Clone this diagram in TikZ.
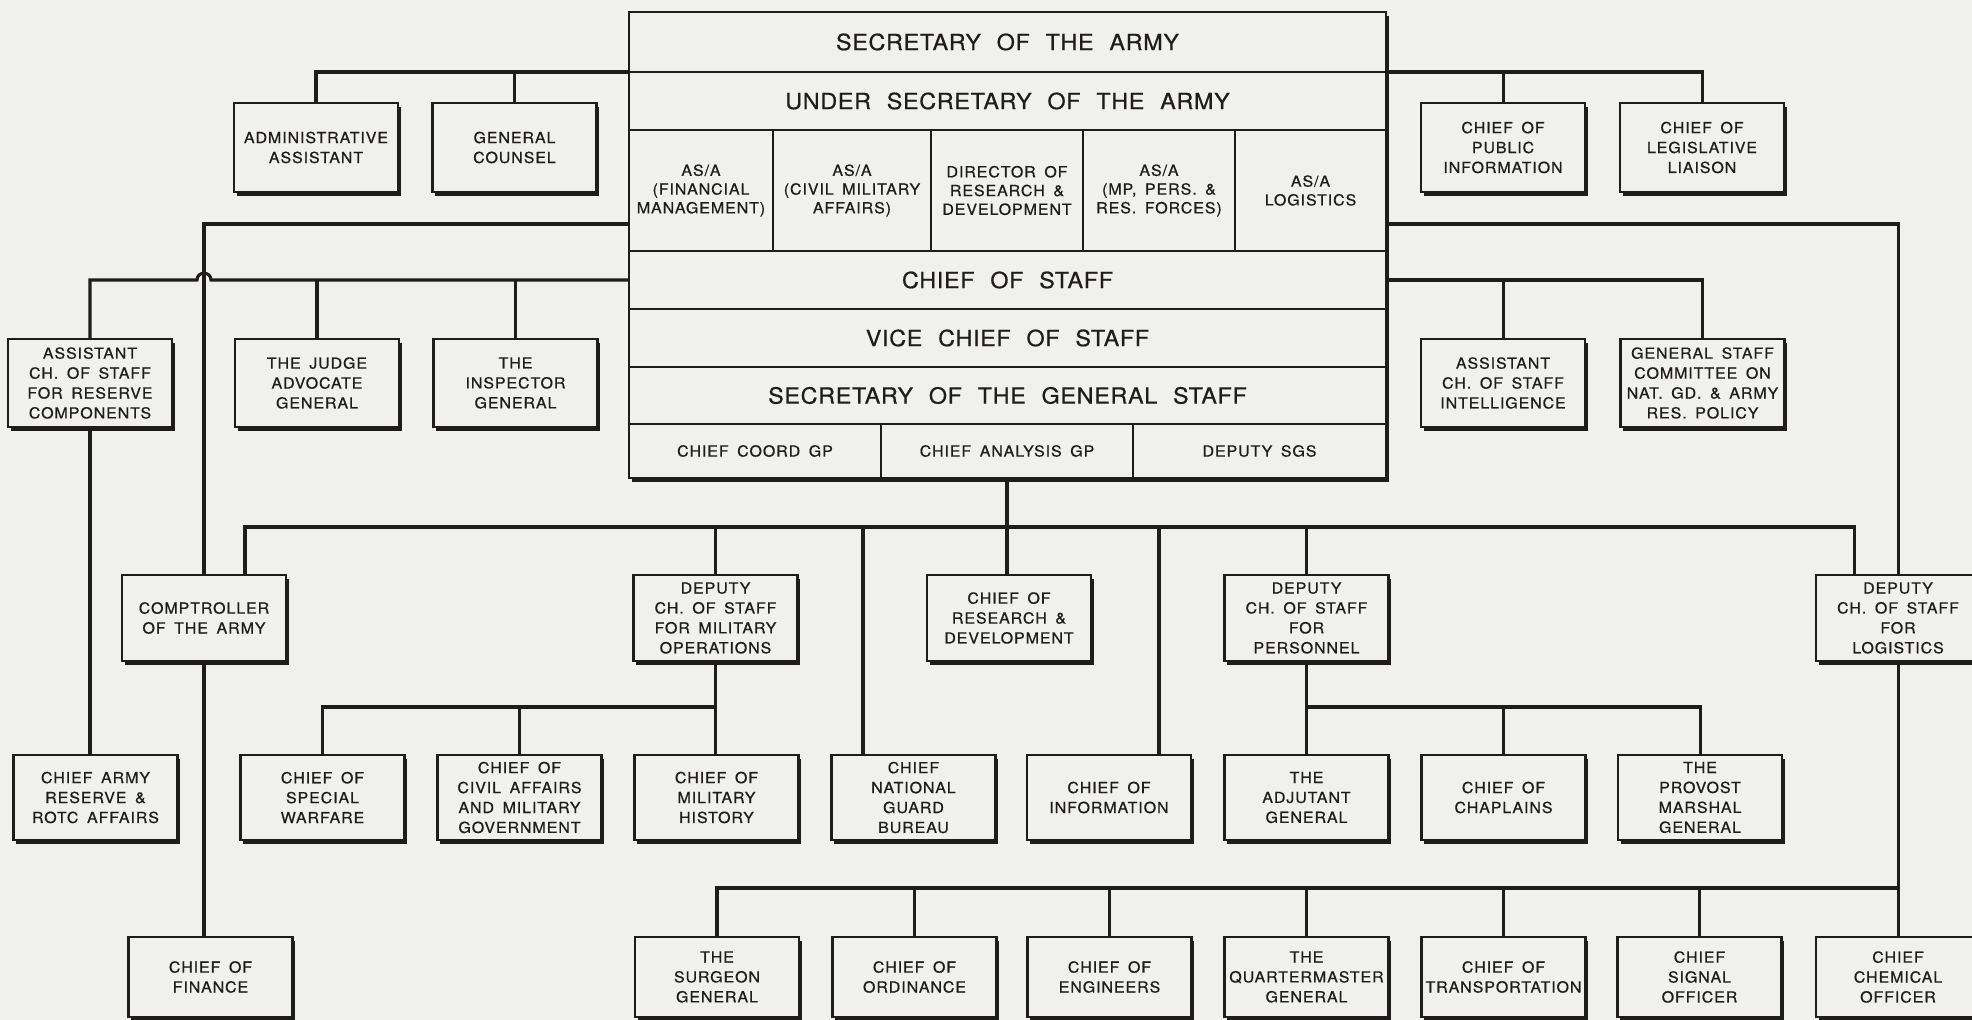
\documentclass[tikz,border=0pt]{standalone}
\usepackage{fontspec}
\usetikzlibrary{shadows}
\newfontfamily\lettering[FakeStretch=1.05,LetterSpace=6,WordSpace=1.6,FakeBold=0.6]{TeX Gyre Heros}
\newfontfamily\banner[FakeStretch=1.05,LetterSpace=3,WordSpace=2.2,FakeBold=0.6]{TeX Gyre Heros}
\definecolor{paper}{RGB}{240,240,238}
\definecolor{ink}{RGB}{30,28,28}
\begin{document}
\begin{tikzpicture}[x=0.03cm,y=-0.03cm,
  wire/.style={draw=ink,line width=2.6pt},
  unit/.style={draw=ink,line width=2.3pt,fill=paper,align=center,inner sep=0pt,outer sep=0pt,
    minimum width=4.92cm,minimum height=2.58cm,text=ink,font=\lettering\fontsize{13}{17}\selectfont,
    general shadow={fill=ink,shadow xshift=2.4pt,shadow yshift=-3.4pt}},
  cell/.style={draw=ink,line width=2.1pt,fill=paper,align=center,inner sep=0pt,outer sep=0pt,
    text=ink,font=\lettering\fontsize{13}{16}\selectfont},
  bigcell/.style={cell,minimum width=22.71cm,font=\banner\fontsize{19}{22}\selectfont}]
  \fill[paper] (0,0) rectangle (1972,1020);
  \useasboundingbox (0,0) rectangle (1972,1020);
  \clip (0,0) rectangle (1972,1020);

  \fill[ink] (631.8,15.8) rectangle (1388.8,481.8);
  \node[bigcell,minimum height=1.8cm] (secy) at (1007.5,42) {SECRETARY OF THE ARMY};
  \node[bigcell,minimum height=1.74cm] (usecy) at (1007.5,101) {UNDER SECRETARY OF THE ARMY};
  \node[cell,minimum width=4.32cm,minimum height=3.63cm] (asafm) at (701,190.5) {AS/A\\(FINANCIAL\\MANAGEMENT)};
  \node[cell,minimum width=4.74cm,minimum height=3.63cm] (asacma) at (852,190.5) {AS/A\\(CIVIL MILITARY\\AFFAIRS)};
  \node[cell,minimum width=4.56cm,minimum height=3.63cm] (drd) at (1007,190.5) {DIRECTOR OF\\RESEARCH \&\\DEVELOPMENT};
  \node[cell,minimum width=4.56cm,minimum height=3.63cm] (asamp) at (1159,190.5) {AS/A\\(MP, PERS. \&\\RES. FORCES)};
  \node[cell,minimum width=4.53cm,minimum height=3.63cm] (asalog) at (1310.5,190.5) {AS/A\\LOGISTICS};
  \node[bigcell,minimum height=1.74cm] (cos) at (1007.5,280) {CHIEF OF STAFF};
  \node[bigcell,minimum height=1.74cm] (vcos) at (1007.5,338) {VICE CHIEF OF STAFF};
  \node[bigcell,minimum height=1.71cm] (sgs) at (1007.5,395.5) {SECRETARY OF THE GENERAL STAFF};
  \node[cell,minimum width=7.56cm,minimum height=1.62cm] (ccg) at (755,451) {CHIEF\ COORD\ GP};
  \node[cell,minimum width=7.56cm,minimum height=1.62cm] (cag) at (1007,451) {CHIEF\ ANALYSIS\ GP};
  \node[cell,minimum width=7.59cm,minimum height=1.62cm] (dsgs) at (1259.5,451) {DEPUTY\ SGS};

  \node[unit,minimum height=2.67cm] (adm) at (316,147.5) {ADMINISTRATIVE\\ASSISTANT};
  \node[unit,minimum height=2.67cm] (gc) at (514.5,147.5) {GENERAL\\COUNSEL};
  \node[unit,minimum height=2.67cm] (pio) at (1503,147.5) {CHIEF OF\\PUBLIC\\INFORMATION};
  \node[unit,minimum height=2.67cm] (leg) at (1702,147.5) {CHIEF OF\\LEGISLATIVE\\LIAISON};

  \node[unit,minimum height=2.64cm] (acsrc) at (90,383) {ASSISTANT\\CH. OF STAFF\\FOR RESERVE\\COMPONENTS};
  \node[unit,minimum height=2.64cm] (tjag) at (317,383) {THE JUDGE\\ADVOCATE\\GENERAL};
  \node[unit,minimum height=2.64cm] (tig) at (515.5,383) {THE\\INSPECTOR\\GENERAL};
  \node[unit,minimum height=2.64cm] (acsi) at (1503,383) {ASSISTANT\\CH. OF STAFF\\INTELLIGENCE};
  \node[unit,minimum height=2.64cm] (gsc) at (1702.5,383) {GENERAL STAFF\\COMMITTEE ON\\NAT. GD. \& ARMY\\RES. POLICY};

  \node[unit] (comp) at (204,618) {COMPTROLLER\\OF THE ARMY};
  \node[unit] (dcsops) at (715.5,618) {DEPUTY\\CH. OF STAFF\\FOR MILITARY\\OPERATIONS};
  \node[unit] (crd) at (1009,618) {CHIEF OF\\RESEARCH \&\\DEVELOPMENT};
  \node[unit] (dcsper) at (1306.5,618) {DEPUTY\\CH. OF STAFF\\FOR\\PERSONNEL};
  \node[unit] (dcslog) at (1898,618) {DEPUTY\\CH. OF STAFF\\FOR\\LOGISTICS};

  \node[unit,minimum height=2.55cm] (carra) at (95.5,797.5) {CHIEF ARMY\\RESERVE \&\\ROTC AFFAIRS};
  \node[unit,minimum height=2.55cm] (csw) at (322.5,797.5) {CHIEF OF\\SPECIAL\\WARFARE};
  \node[unit,minimum height=2.55cm] (cca) at (519.5,797.5) {CHIEF OF\\CIVIL AFFAIRS\\AND MILITARY\\GOVERNMENT};
  \node[unit,minimum height=2.55cm] (cmh) at (716.5,797.5) {CHIEF OF\\MILITARY\\HISTORY};
  \node[unit,minimum height=2.55cm] (cngb) at (913.5,797.5) {CHIEF\\NATIONAL\\GUARD\\BUREAU};
  \node[unit,minimum height=2.55cm] (cinfo) at (1109,797.5) {CHIEF OF\\INFORMATION};
  \node[unit,minimum height=2.55cm] (tag) at (1306.5,797.5) {THE\\ADJUTANT\\GENERAL};
  \node[unit,minimum height=2.55cm] (cch) at (1503.5,797.5) {CHIEF OF\\CHAPLAINS};
  \node[unit,minimum height=2.55cm] (tpmg) at (1700,797.5) {THE\\PROVOST\\MARSHAL\\GENERAL};

  \node[unit,minimum height=2.4cm] (cof) at (210.5,977) {CHIEF OF\\FINANCE};
  \node[unit,minimum height=2.4cm] (tsg) at (717,977) {THE\\SURGEON\\GENERAL};
  \node[unit,minimum height=2.4cm] (cord) at (914.5,977) {CHIEF OF\\ORDINANCE};
  \node[unit,minimum height=2.4cm] (ceng) at (1109.5,977) {CHIEF OF\\ENGINEERS};
  \node[unit,minimum height=2.4cm] (tqmg) at (1306.5,977) {THE\\QUARTERMASTER\\GENERAL};
  \node[unit,minimum height=2.4cm] (ctrans) at (1503.5,977) {CHIEF OF\\TRANSPORTATION};
  \node[unit,minimum height=2.4cm] (cso) at (1699.5,977) {CHIEF\\SIGNAL\\OFFICER};
  \node[unit,minimum height=2.4cm] (ccml) at (1898,977) {CHIEF\\CHEMICAL\\OFFICER};

  \coordinate (cl) at (629,224);
  \coordinate (cr) at (1386,224);
  \coordinate (bw) at (245,527);
  \coordinate (be) at (1854,527);
  \coordinate (ngbj) at (863,527);
  \coordinate (infj) at (1159,527);
  \coordinate (opsbus) at (715.5,707);
  \coordinate (perbus) at (1306.5,707);
  \coordinate (logbus) at (1898,888);

  \draw[wire] (secy.south west) -| (adm.north);
  \draw[wire] (gc.north) -- (gc.north |- secy.south west);
  \draw[wire] (secy.south east) -| (leg.north);
  \draw[wire] (pio.north) -- (pio.north |- secy.south east);
  \draw[wire] (cl) -| (comp.north);
  \draw[wire] (cr) -| (dcslog.north);
  \draw[wire] (cos.west) -- (211,280) .. controls (211,271) and (197,271) .. (197,280) -| (acsrc.north);
  \draw[wire] (tjag.north) -- (tjag.north |- cos.west);
  \draw[wire] (tig.north) -- (tig.north |- cos.west);
  \draw[wire] (cos.east) -| (gsc.north);
  \draw[wire] (acsi.north) -- (acsi.north |- cos.east);
  \draw[wire] (acsrc.south) -- (acsrc.south |- carra.north);
  \draw[wire] (comp.south) -- (comp.south |- cof.north);

  \draw[wire] (cag.south) -- (cag.south |- crd.north);
  \draw[wire] (bw |- comp.north) -- (bw) -- (be) -- (be |- dcslog.north);
  \foreach \n in {dcsops,dcsper}
    \draw[wire] (\n.north) -- (\n.north |- bw);
  \draw[wire] (ngbj) -- (ngbj |- cngb.north);
  \draw[wire] (infj) -- (infj |- cinfo.north);

  \draw[wire] (dcsops.south) -- (dcsops.south |- cmh.north);
  \draw[wire] (csw.north) |- (opsbus);
  \draw[wire] (cca.north) -- (cca.north |- opsbus);
  \draw[wire] (dcsper.south) -- (dcsper.south |- tag.north);
  \draw[wire] (tpmg.north) |- (perbus);
  \draw[wire] (cch.north) -- (cch.north |- perbus);

  \draw[wire] (dcslog.south) -- (ccml.north);
  \draw[wire] (tsg.north) |- (logbus);
  \foreach \n in {cord,ceng,tqmg,ctrans,cso}
    \draw[wire] (\n.north) -- (\n.north |- logbus);
\end{tikzpicture}
\end{document}
